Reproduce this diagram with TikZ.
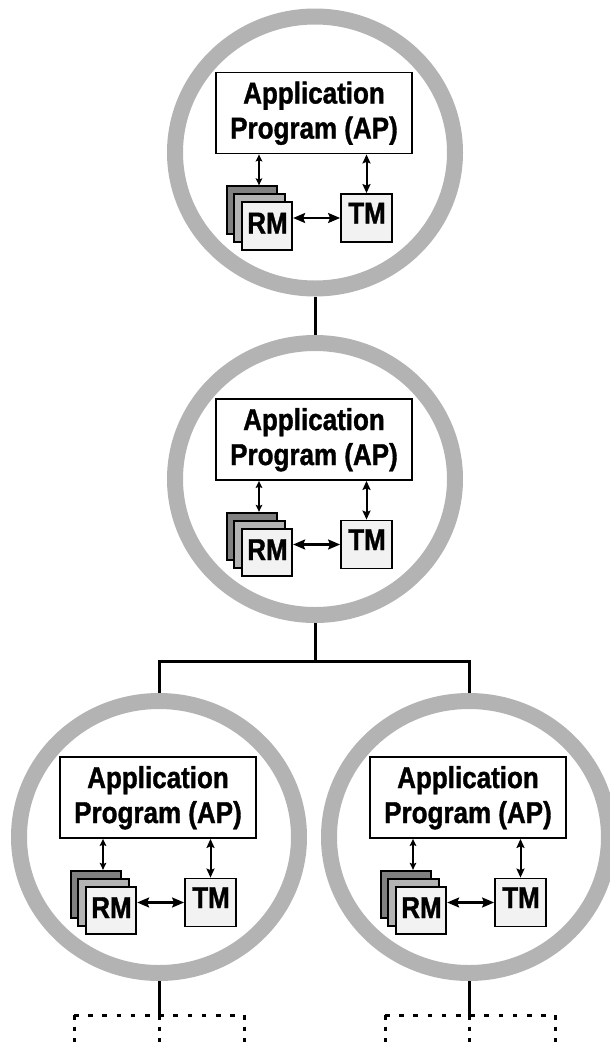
\documentclass[tikz,border=0pt]{standalone}
\usepackage{fontspec}
\setmainfont{Liberation Sans}[BoldFeatures={FakeBold=1.3}]
\usepackage{graphicx}
\usetikzlibrary{shapes.geometric,arrows.meta,calc}
\definecolor{ringgray}{HTML}{B3B3B3}
\definecolor{cardA}{HTML}{808080}
\definecolor{cardB}{HTML}{B3B3B3}
\definecolor{cardC}{HTML}{F2F2F2}
\newcommand{\vs}[1]{\scalebox{1}[1.16]{#1}}
\tikzset{
  ring/.style={ellipse, draw=ringgray, line width=16pt, minimum width=280pt, minimum height=272pt, inner sep=0pt},
  apbox/.style={rectangle, draw, fill=white, line width=1.8pt, minimum width=196pt, minimum height=81pt, inner sep=0pt},
  card/.style={rectangle, draw, line width=1.8pt, minimum width=50.5pt, minimum height=47.5pt, inner sep=0pt},
  mbox/.style={rectangle, draw, fill=cardC, line width=1.8pt, minimum width=51pt, minimum height=48pt, inner sep=0pt},
  lbl/.style={inner sep=0pt, anchor=base, font=\fontsize{26}{30}\selectfont\bfseries},
  arrA/.style={line width=1.6pt, {Stealth[length=7pt,width=6.5pt,inset=1.2pt]}-{Stealth[length=7pt,width=6.5pt,inset=1.2pt]}},
  arrB/.style={line width=2pt, {Stealth[length=9pt,width=8pt,inset=1.5pt]}-{Stealth[length=9pt,width=8pt,inset=1.5pt]}},
  arrC/.style={line width=2.2pt, {Stealth[length=12pt,width=10pt,inset=2pt]}-{Stealth[length=12pt,width=10pt,inset=2pt]}},
  conn/.style={line width=3pt},
  doth/.style={line width=3pt, dash pattern=on 4.5pt off 9.7pt},
  dotv/.style={line width=3pt, dash pattern=on 4.5pt off 7.2pt}
}
\newcommand{\drawsite}[3]{%
\begin{scope}[shift={(#2,#3)}]
  \node[ring] (#1) at (0,0) {};
  \node[apbox] (#1ap) at (-1,-39.5) {};
  \node[lbl] (#1la) at (-1,-49) {\vs{Application}};
  \node[lbl] (#1lb) at (-1,-14) {\vs{Program (AP)}};
  \node[card, fill=cardA] (#1ca) at (-63,57.5) {};
  \node[card, fill=cardB] (#1cb) at (-55.5,65.5) {};
  \node[card, fill=cardC] (#1rm) at (-48,73.5) {};
  \node[lbl] (#1rmt) at (-47.5,81) {\vs{RM}};
  \node[mbox] (#1tm) at (51.5,65.5) {};
  \node[lbl] (#1tmt) at (52,71) {\vs{TM}};
  \draw[arrA] ($(#1ap.south -| #1ca.north)+(7,0)$) -- ($(#1ca.north)+(7,0)$);
  \draw[arrB] (#1tm.north |- #1ap.south) -- (#1tm.north);
  \draw[arrC] (#1rm.east |- #1tm.west) -- (#1tm.west);
\end{scope}}
\begin{document}
\begin{tikzpicture}[x=1pt,y=-1pt]
  \useasboundingbox (0,0) rectangle (610,1042);
  \drawsite{s1}{315}{152.5}
  \drawsite{s2}{315}{479}
  \drawsite{s3}{159}{837}
  \drawsite{s4}{469}{837}
  % tree connectors
  \coordinate (bj) at (315,661);
  \draw[conn] (s1.south) -- (s2.north);
  \draw[conn] (s2.south) -- (bj);
  \draw[conn] (s3.north) |- (bj) -| (s4.north);
  % bottom continuation
  \coordinate (b3) at (159,1015);
  \coordinate (b3l) at (74,1015);
  \coordinate (b3r) at (244,1015);
  \coordinate (e3) at (159,1050);
  \coordinate (e3l) at (74,1050);
  \coordinate (e3r) at (244,1050);
  \coordinate (b4) at (469,1015);
  \coordinate (b4l) at (385,1015);
  \coordinate (b4r) at (555,1015);
  \coordinate (e4) at (469,1050);
  \coordinate (e4l) at (385,1050);
  \coordinate (e4r) at (555,1050);
  \draw[conn] (s3.south) -- (b3);
  \draw[conn] (s4.south) -- (b4);
  \draw[doth] (b3l) -- (b3r);
  \draw[doth] (b4l) -- (b4r);
  \draw[dotv] (b3l) -- (e3l);
  \draw[dotv] (b3) -- (e3);
  \draw[dotv] (b3r) -- (e3r);
  \draw[dotv] (b4l) -- (e4l);
  \draw[dotv] (b4) -- (e4);
  \draw[dotv] (b4r) -- (e4r);
\end{tikzpicture}
\end{document}
